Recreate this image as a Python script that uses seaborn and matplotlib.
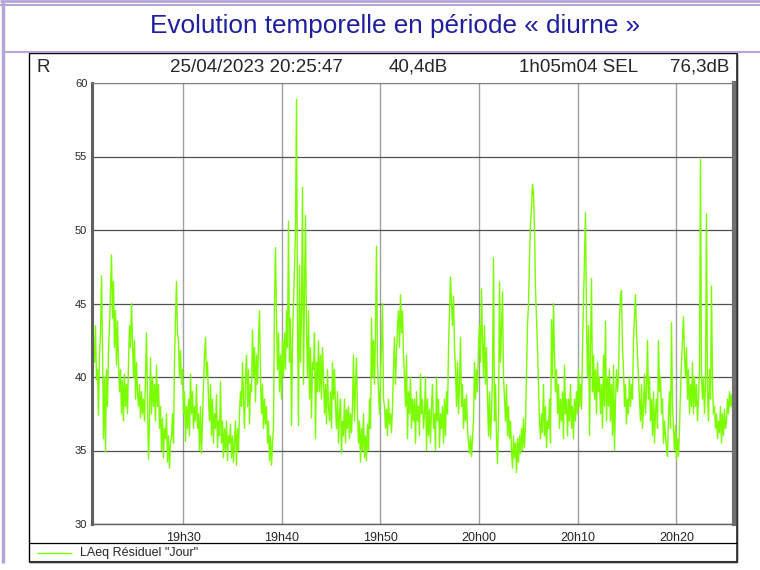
import pandas as pd
import matplotlib
matplotlib.use('Agg')
import matplotlib.pyplot as plt
import matplotlib.dates as mdates
from matplotlib.lines import Line2D
from matplotlib.patches import Rectangle
import seaborn as sns

sns.set_style('white')
plt.rcParams['font.family'] = ['Liberation Sans', 'DejaVu Sans']

# --- données ---
debut = '2023-04-25 19:20:43'
fin = '2023-04-25 20:25:47'

# LAeq (dB) relevé environ toutes les 6 s
laeq = [
    44.0, 51.3, 42.5, 41.0, 43.5, 39.8, 40.5, 37.4, 41.5, 43.0, 46.9, 42.0,
    35.8, 40.0, 34.9, 40.5, 38.0, 41.8, 43.5, 46.0, 48.3, 44.0, 46.5,
    42.0, 44.5, 40.8, 43.8, 41.0,
    39.0, 40.5, 37.5, 39.8, 37.0, 40.2, 38.0, 39.5, 37.5,
    41.0, 43.5, 42.0, 45.0, 42.5, 40.0, 42.5, 38.5, 41.0, 39.0,
    38.0, 39.5, 37.2, 39.0, 37.5, 38.5, 37.0, 40.0, 43.0, 38.5, 34.4,
    37.0, 41.3, 37.5, 40.0, 38.0, 39.5, 37.0, 40.8, 38.0, 39.5,
    36.5, 38.0, 35.0, 37.2, 34.5, 36.5, 35.8, 37.5, 34.2, 36.0, 33.8, 35.5,
    36.0, 37.5, 35.5, 41.0, 44.0, 46.5, 43.0,
    42.5, 40.0, 41.8, 39.5, 40.5, 37.5, 39.0, 35.6, 38.0, 36.5,
    38.5, 36.0, 40.2, 37.5, 39.0, 36.5, 38.0, 37.0, 39.5, 36.5,
    37.5, 35.0, 38.0, 34.8, 37.0, 39.5, 41.5, 42.7, 40.0, 41.0, 38.5,
    37.0, 39.5, 36.0, 38.5, 35.5, 37.5, 36.5, 38.8, 35.2, 37.0, 36.0, 39.7, 35.5, 37.0,
    # 19h30 -> 19h50
    34.5, 36.5, 35.0, 37.0, 34.3, 36.0, 35.5, 36.8,
    34.5, 36.0, 34.2, 35.5, 37.0, 34.0, 36.5,
    35.0, 37.5, 39.0, 38.0, 41.0, 38.5, 36.5, 40.0, 41.5, 38.0, 40.5, 36.8, 39.5,
    39.0, 43.2, 40.0, 42.0, 38.3, 41.5, 39.5, 42.5, 44.5,
    40.0, 37.5, 39.5, 36.5, 38.5, 36.8, 38.0, 35.5, 37.0, 34.3, 36.0, 34.0, 35.5,
    36.5, 45.0, 48.8, 44.0, 40.5, 43.0, 39.0, 41.5, 38.5, 42.5, 40.0, 43.0, 40.5,
    44.5, 42.0, 50.6, 41.0, 44.0, 36.7, 42.5, 45.0, 47.5, 50.0, 58.9,
    44.0, 36.7, 47.6, 41.0, 44.5, 52.9, 39.5, 46.0, 51.0,
    43.0, 40.0, 44.5, 38.5, 42.0, 37.2, 41.0, 40.5, 43.0, 35.8, 41.0, 39.0,
    42.5, 39.0, 41.5, 38.5, 42.0, 40.0, 37.5,
    39.5, 36.8, 40.5, 38.0, 37.0, 39.0, 36.5, 41.0, 38.5, 40.5,
    38.0, 36.5, 39.0, 35.5, 37.5, 38.5, 34.8, 37.0, 36.0, 38.5, 35.5, 37.8,
    36.5, 38.0, 35.8, 37.5, 36.2, 38.0,
    # 19h50 -> 20h00
    41.5, 37.0, 39.5, 41.3, 37.5,
    35.5, 37.0, 34.2, 36.5, 35.0, 37.5, 34.5, 36.0, 34.3, 36.8,
    35.0, 38.5, 36.5, 44.0, 40.0, 42.5, 39.5, 43.0, 48.9, 41.0,
    39.0, 37.5, 40.0, 42.0, 45.0, 38.5,
    38.0, 36.5, 37.8, 36.0, 38.5, 36.8, 37.5, 36.2,
    38.0, 40.5, 42.7, 39.5, 41.5, 43.5, 44.5, 42.0, 45.6, 43.0, 44.5, 41.5,
    40.0, 38.0, 41.5, 35.8, 39.0, 37.5, 40.0, 36.5, 38.5, 37.0,
    38.5, 35.5, 39.0, 37.0, 38.0, 36.0, 40.2, 37.5, 38.5, 36.5,
    37.5, 40.0, 35.0, 38.5, 36.0, 37.8, 35.5, 38.0, 39.5, 36.5, 37.5, 35.0,
    40.0, 37.0, 38.5, 35.2, 37.5, 36.5, 38.0, 35.5, 38.5, 36.0, 39.0, 37.5,
    42.0, 44.5, 46.8, 45.0, 43.5, 45.5,
    42.0, 40.5, 38.0, 41.0, 37.5, 39.5, 42.7,
    38.0, 39.5, 36.5, 38.5, 37.0, 38.8, 36.5,
    35.5, 34.8, 36.0, 34.6, 35.8, 37.0, 41.0, 38.5, 40.5, 39.0,
    # 20h00 -> 20h10
    42.0, 43.5, 41.0, 46.0, 42.5, 40.0, 43.5, 39.5, 42.0,
    38.5, 36.0, 39.0, 35.8, 37.5, 40.0, 48.1, 37.0, 39.5, 36.0, 34.1, 37.0,
    46.5, 41.0, 43.5, 45.8, 40.0,
    38.5, 37.0, 39.5, 36.0, 38.0, 35.8, 37.0,
    35.0, 33.8, 36.0, 34.5, 35.5, 33.5, 35.8, 34.2, 36.0, 34.8,
    36.5, 35.0, 37.2, 35.2, 36.8, 40.0, 43.5, 45.0,
    48.0, 50.5, 51.5, 53.1, 52.5, 50.0, 46.0, 44.0, 42.0, 39.5,
    37.0, 35.8, 37.5, 36.2, 39.5,
    36.0, 38.0, 35.2, 37.0, 36.5, 38.5, 35.5, 43.9,
    40.0, 45.0, 41.5, 39.0, 40.5,
    37.5, 39.5, 36.5, 38.5, 37.0, 39.0, 35.8, 40.8, 37.5, 38.5,
    36.0, 38.5, 37.0, 39.5, 36.5, 38.0, 35.8, 38.5, 37.0, 39.0,
    37.5, 40.5, 38.0, 39.5, 37.8, 42.0, 45.0, 48.0, 51.2, 44.0,
    40.0, 43.5, 36.0, 42.0, 46.7, 39.0, 41.5,
    38.5, 40.5, 37.5, 41.0, 39.0, 40.0, 37.5,
    39.5, 36.5, 41.5, 38.0, 43.8, 37.0, 40.0, 38.0, 40.5, 37.0, 39.5,
    # 20h10 -> fin
    36.0, 40.8, 35.0, 38.5, 40.5, 39.0, 40.0, 44.0, 45.5, 45.9, 42.0,
    40.5, 38.0, 39.5, 36.8, 38.5, 37.5, 40.0, 38.0, 39.5, 38.5,
    42.5, 44.0, 45.6, 43.0, 41.5,
    40.0, 38.5, 37.0, 39.5, 36.5, 38.0, 40.2, 37.5,
    39.0, 42.5, 38.5, 40.0, 37.0,
    38.5, 36.0, 39.0, 35.5, 37.8, 38.5, 36.5, 42.5, 39.0, 40.0,
    37.5, 38.5, 35.5, 37.0, 36.0, 35.2, 34.6,
    37.5, 39.0, 36.5, 43.7, 38.0,
    36.5, 35.0, 36.7, 34.4, 35.8, 34.6, 36.5,
    39.0, 41.0, 42.5, 44.1, 41.5, 40.0, 42.0,
    38.5, 40.5, 37.5, 39.5, 38.0, 41.0, 37.5, 40.0, 38.0, 39.5, 37.0, 38.5, 40.5,
    54.8, 40.0, 38.5, 40.0, 37.5, 39.5, 51.1,
    39.0, 37.0, 40.5, 38.5, 46.2, 39.5, 37.5,
    38.0, 36.5, 37.5, 35.8, 37.0, 36.2, 38.0, 35.5, 37.5, 36.0, 37.8, 36.5, 37.0,
    38.5, 37.5, 39.0, 38.0, 38.8, 37.8, 38.5,
]

titre = 'Evolution temporelle en période « diurne »'
entete = ['R', '25/04/2023 20:25:47', '40,4dB', '1h05m04 SEL', '76,3dB']
heures = ['19:30', '19:40', '19:50', '20:00', '20:10', '20:20']
niveaux = [30, 35, 40, 45, 50, 55, 60]
legende = 'LAeq Résiduel "Jour"'

df = pd.DataFrame({'temps': pd.date_range(debut, fin, periods=len(laeq)),
                   'LAeq': laeq})

W, H = 760, 570
fig = plt.figure(figsize=(W / 100, H / 100), dpi=100)


def fx(px):
    return px / W


def fy(py):
    return 1 - py / H


def trait(x0, y0, x1, y1, couleur, ep):
    fig.add_artist(Line2D([fx(x0), fx(x1)], [fy(y0), fy(y1)], color=couleur,
                          lw=ep, transform=fig.transFigure, solid_capstyle='butt'))


# cadre violet et bandeau de titre
lavande = '#b4a7d6'
trait(0, 1, W, 1, lavande, 2)
trait(0, 5, W, 5, lavande, 1.5)
trait(3, 51.5, W, 51.5, lavande, 1.5)
trait(3.5, 0, 3.5, 563, lavande, 2.5)
fig.text(fx(395), fy(26), titre, ha='center', va='center', fontsize=18.8, color='#1f1f9e')

# cadre noir intérieur
fig.add_artist(Rectangle((fx(29), fy(562)), fx(737) - fx(29), fy(52.5) - fy(562),
                         transform=fig.transFigure, fill=False, ec='black', lw=1))
trait(29, 561.5, 737.5, 561.5, '#333333', 1.5)
trait(737, 52.5, 737, 562, '#333333', 1.2)
trait(29, 543, 737, 543, 'black', 0.9)

# entête
fig.text(fx(37), fy(67.5), entete[0], ha='left', va='center', fontsize=13.5)
fig.text(fx(256), fy(67.5), entete[1], ha='center', va='center', fontsize=13.5)
fig.text(fx(418), fy(67.5), entete[2], ha='center', va='center', fontsize=13.5)
fig.text(fx(638), fy(67.5), entete[3], ha='right', va='center', fontsize=13.5)
fig.text(fx(729), fy(67.5), entete[4], ha='right', va='center', fontsize=13.5)

# graphe
ax = fig.add_axes([fx(91.5), fy(524), fx(733.5) - fx(91.5), fy(83) - fy(524)])
sns.lineplot(data=df, x='temps', y='LAeq', ax=ax, color='#7cfc00', lw=1,
             estimator=None, legend=False)
ax.set_xlim(pd.Timestamp(debut), pd.Timestamp(fin))
ax.set_ylim(niveaux[0], niveaux[-1])
ax.set_yticks(niveaux)
ax.set_xticks(pd.to_datetime(['2023-04-25 ' + h for h in heures]))
ax.xaxis.set_major_formatter(mdates.DateFormatter('%Hh%M'))
ax.set_xlabel('')
ax.set_ylabel('')
ax.grid(axis='y', color='#505050', lw=0.9)
ax.grid(axis='x', color='#a0a0a0', lw=1)
ax.set_axisbelow(True)
ax.tick_params(axis='y', labelsize=8, length=2, pad=1, color='#505050')
ax.tick_params(axis='x', labelsize=9, length=4, pad=2, color='#808080')
ax.spines['left'].set_color('#606060')
ax.spines['left'].set_linewidth(2.2)
ax.spines['right'].set_color('#707070')
ax.spines['right'].set_linewidth(3)
ax.spines['top'].set_color('#808080')
ax.spines['top'].set_linewidth(0.8)
ax.spines['bottom'].set_color('#606060')
ax.spines['bottom'].set_linewidth(1)

# légende
trait(37, 553, 72, 553, '#7cfc00', 1)
fig.text(fx(80), fy(553), legende, ha='left', va='center', fontsize=9)

fig.savefig('out.png', dpi=100)
